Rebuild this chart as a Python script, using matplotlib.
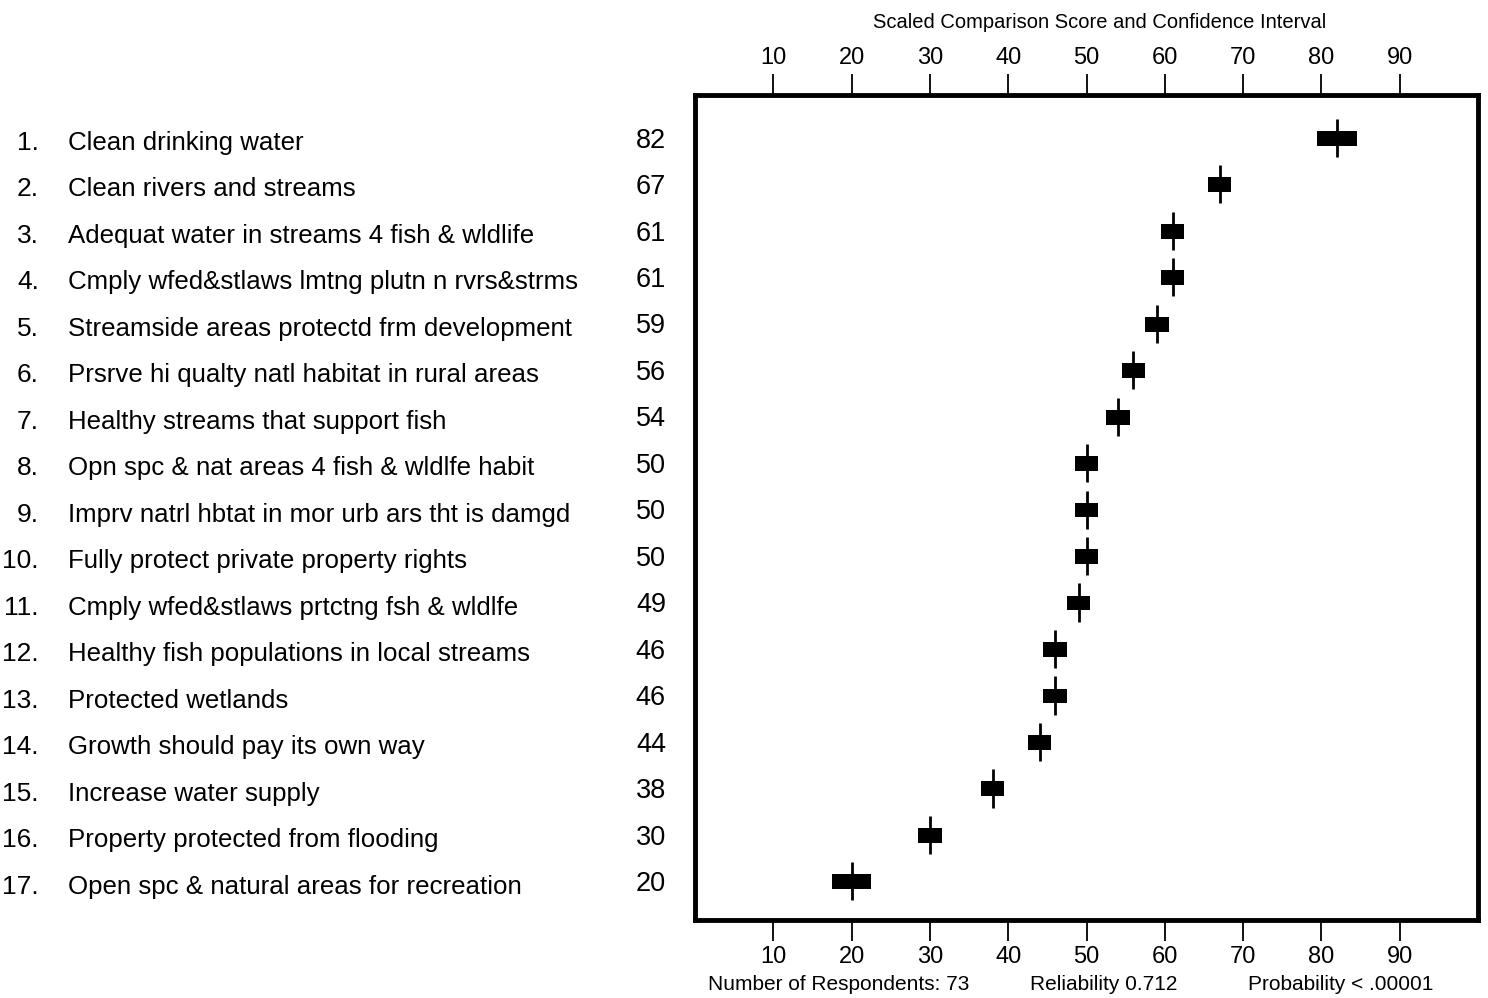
import matplotlib
matplotlib.use("Agg")
import matplotlib.pyplot as plt
from matplotlib import font_manager
from matplotlib.transforms import blended_transform_factory

# Priority items with scaled comparison scores
items = [
    "Clean drinking water",
    "Clean rivers and streams",
    "Adequat water in streams 4 fish & wldlife",
    "Cmply wfed&stlaws lmtng plutn n rvrs&strms",
    "Streamside areas protectd frm development",
    "Prsrve hi qualty natl habitat in rural areas",
    "Healthy streams that support fish",
    "Opn spc & nat areas 4 fish & wldlfe habit",
    "Imprv natrl hbtat in mor urb ars tht is damgd",
    "Fully protect private property rights",
    "Cmply wfed&stlaws prtctng fsh & wldlfe",
    "Healthy fish populations in local streams",
    "Protected wetlands",
    "Growth should pay its own way",
    "Increase water supply",
    "Property protected from flooding",
    "Open spc & natural areas for recreation",
]
scores = [82, 67, 61, 61, 59, 56, 54, 50, 50, 50, 49, 46, 46, 44, 38, 30, 20]
# full width of the confidence box, in score units
box_widths = [5, 3, 3, 3, 3, 3, 3, 3, 3, 3, 3, 3, 3, 3, 3, 3, 5]
ticks = [10, 20, 30, 40, 50, 60, 70, 80, 90]

names = {f.name for f in font_manager.fontManager.ttflist}
family = ["Liberation Sans Narrow"] if "Liberation Sans Narrow" in names else ["Liberation Sans"]
plt.rcParams["font.family"] = family + ["DejaVu Sans"]

W, H = 1488, 998
fig = plt.figure(figsize=(W / 100, H / 100), dpi=100)
ax = fig.add_axes([695 / W, 1 - 920 / H, (1478 - 695) / W, (920 - 95) / H])

rows = list(range(1, len(items) + 1))
lefts = [s - w / 2 for s, w in zip(scores, box_widths)]
ax.barh(rows, box_widths, left=lefts, height=0.32, color="black", zorder=3)
ax.vlines(scores, [r - 0.42 for r in rows], [r + 0.4 for r in rows],
          color="black", linewidth=2, zorder=4)

ax.set_xlim(0, 100)
ax.set_ylim(17.82, 0.07)
ax.set_yticks([])
ax.set_xticks(ticks)
ax.tick_params(axis="x", which="both", top=True, labeltop=True, bottom=True,
               labelbottom=True, direction="out", length=12, width=1.3,
               labelsize=17, pad=4, color="black")
ax.tick_params(axis="x", top=True, length=15)
for sp in ax.spines.values():
    sp.set_linewidth(3.5)
    sp.set_color("black")

trans = blended_transform_factory(fig.transFigure, ax.transData)
for r, name, s in zip(rows, items, scores):
    fig.text(39 / W, r + 0.1, f"{r}.", transform=trans, ha="right", va="center",
             fontsize=19)
    fig.text(68 / W, r + 0.1, name, transform=trans, ha="left", va="center",
             fontsize=18.6)
    ax.text(666 / W, r + 0.05, f"{s}", transform=trans, ha="right", va="center",
            fontsize=19.5)

fig.text(1100 / W, 1 - 22 / H, "Scaled Comparison Score and Confidence Interval",
         ha="center", va="center", fontsize=14.5)
fig.text(708 / W, 1 - 985 / H, "Number of Respondents: 73", ha="left",
         va="center", fontsize=15)
fig.text(1030 / W, 1 - 985 / H, "Reliability 0.712", ha="left", va="center",
         fontsize=15)
fig.text(1248 / W, 1 - 985 / H, "Probability < .00001", ha="left", va="center",
         fontsize=15)

fig.savefig("out.png", dpi=100, facecolor="white")
